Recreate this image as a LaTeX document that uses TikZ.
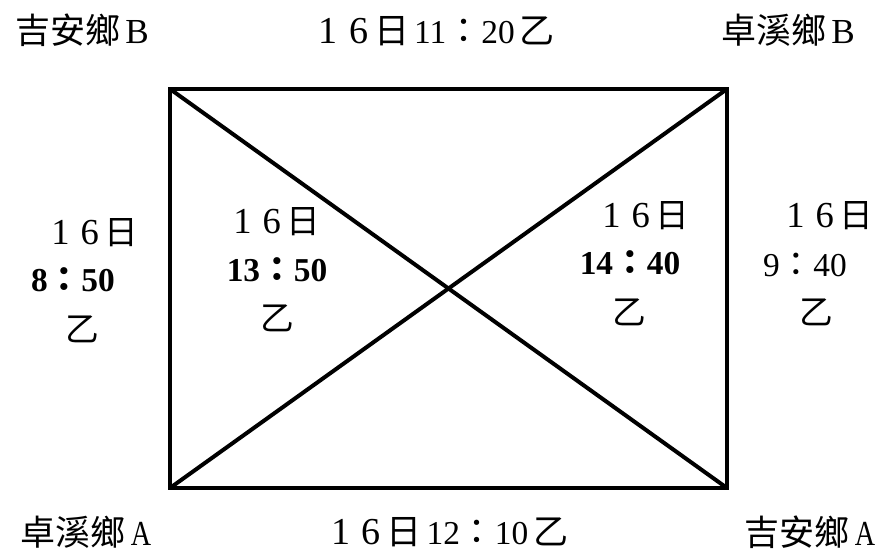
\documentclass[tikz,border=0pt]{standalone}
\usepackage{graphicx}
\usepackage{fontspec}
\setmainfont{Liberation Serif}
\newfontfamily\cjk[Scale=1.15]{Noto Sans CJK TC}
\newcommand{\fw}[1]{\makebox[1em]{\scalebox{1.25}{#1}}}
\newcommand{\nm}[1]{{\fontsize{28.5}{30}\selectfont #1}}
\newcommand{\ri}{\fw{1}\fw{6}{\cjk 日}}
\newcommand{\mh}{{\cjk ：}}
\newcommand{\yi}{{\cjk 乙}}
\newcommand{\sidea}{\scalebox{0.8}[1]{\fontsize{30}{30}\selectfont A}}
\newcommand{\sideb}{{\fontsize{30}{30}\selectfont B}}

\begin{document}
\begin{tikzpicture}[x=0.03cm, y=-0.03cm,
                    every node/.style={inner sep=0pt},
                    big/.style={font=\fontsize{26}{30}\selectfont},
                    small/.style={font=\fontsize{25}{29}\selectfont},
                    thin time/.style={font=\fontsize{25}{29}\selectfont},
                    bold time/.style={font=\fontsize{25}{29}\selectfont\bfseries}
                    ]
                    \useasboundingbox (0,0) rectangle (885,558);

                    \coordinate (tl) at (170,89);
                    \coordinate (tr) at (727,89);
                    \coordinate (br) at (727,488);
                    \coordinate (bl) at (170,488);

                    \draw[line width=3.4pt] (tl) -- (tr) -- (br) -- (bl) -- cycle;
                    \foreach \i/\j in {tl/br,bl/tr}{
                        \draw (\i) edge[line width=3.4pt] (\j);
                    }

                    % corners and edges
                    \node[big] (jb) at (82,30) {{\cjk 吉安鄉}\,\sideb};
                    \node[big] (zb) at (788,30) {{\cjk 卓溪鄉}\,\sideb};
                    \node[big] (za) at (86,532) {{\cjk 卓溪鄉}\,\sidea};
                    \node[big] (ja) at (810,532) {{\cjk 吉安鄉}\,\sidea};
                    \node[big] (top) at (434,31) {\ri\,\nm{11}\mh\nm{20}\,\yi};
                    \node[big] (bot) at (447,532) {\ri\,\nm{12}\mh\nm{10}\,\yi};

                    % left side
                    \node[small] (l1) at (92,233) {\ri};
                    \node[bold time] (l2) at (73,280) {\nm{8}\mh\nm{50}};
                    \node[small] (l3) at (82,329) {\yi};

                    % inner left
                    \node[small] (il1) at (274,222) {\ri};
                    \node[bold time] (il2) at (277,270) {\nm{13}\mh\nm{50}};
                    \node[small] (il3) at (277,318) {\yi};

                    % inner right
                    \node[small] (ir1) at (643,216) {\ri};
                    \node[bold time] (ir2) at (630,263) {\nm{14}\mh\nm{40}};
                    \node[small] (ir3) at (629,312) {\yi};

                    % right side
                    \node[small] (r1) at (827,216) {\ri};
                    \node[thin time] (r2) at (805,265) {\nm{9}\mh\nm{40}};
                    \node[small] (r3) at (816,312) {\yi};

                \end{tikzpicture}
\end{document}
